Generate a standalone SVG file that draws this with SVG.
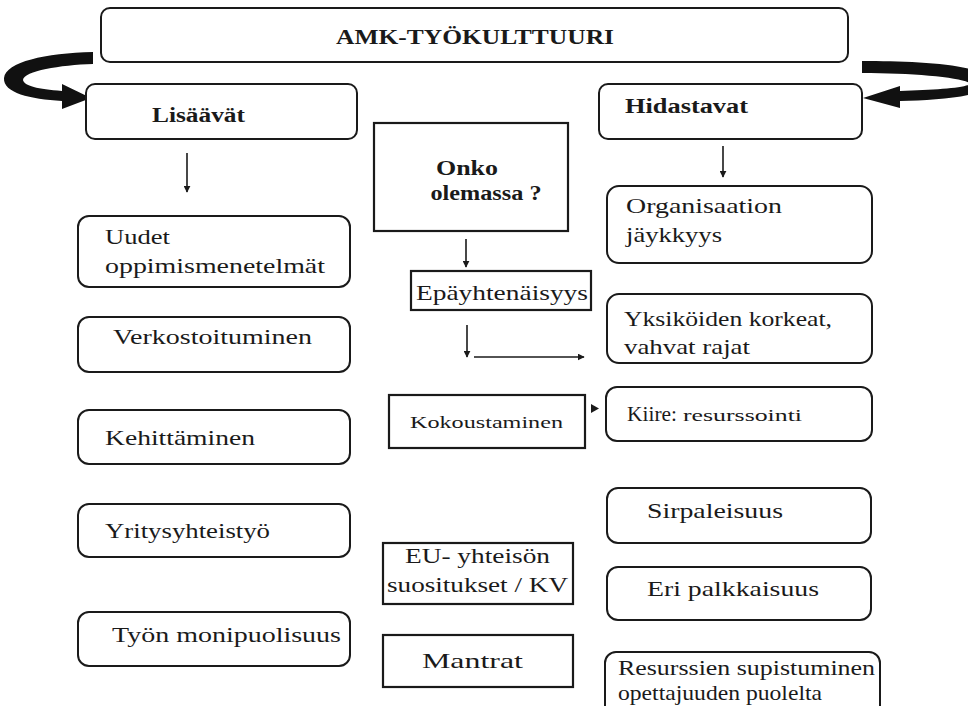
<svg xmlns="http://www.w3.org/2000/svg" width="968" height="706" viewBox="0 0 968 706">
  <style>
    .rbox { fill: #fff; stroke: #1a1a1a; stroke-width: 2; }
    .sbox { fill: #fff; stroke: #1a1a1a; stroke-width: 2.2; }
    .t { font-family: "Liberation Serif", "DejaVu Serif", serif; fill: #1a1a1a; font-size: 21px; }
    .b { font-weight: bold; font-size: 20px; }
    .s { font-size: 17px; }
    .conn { stroke: #1a1a1a; stroke-width: 1.6; fill: none; }
    .loop { fill: #111; }
  </style>
  <defs>
    <marker id="head" viewBox="0 0 10 10" refX="9" refY="5" markerWidth="7" markerHeight="7" markerUnits="userSpaceOnUse" orient="auto">
      <path d="M0,0 L10,5 L0,10 Z" fill="#1a1a1a"/>
    </marker>
  </defs>

  <rect width="968" height="706" fill="#fff"/>

  <!-- connectors -->
  <g id="connectors">
    <!-- thick loops from the top box down to the two headers -->
    <path class="loop" d="M93,52 C45,53 6,62 4,78 C3,93 30,99 62,101 L62,109 L91,98 L62,84 L62,91 C38,89 24,86 23,80 C24,71 60,65 93,64 Z"/>
    <path class="loop" d="M862,61 C915,61 984,64 988,80 C992,97 940,100 900,101 L900,108 L863,98 L900,86 L900,91 C935,90 965,88 970,84 C968,78 915,73 862,73 Z"/>
    <line class="conn" x1="187" y1="153" x2="187" y2="192" marker-end="url(#head)"/>
    <line class="conn" x1="723" y1="146" x2="723" y2="177" marker-end="url(#head)"/>
    <line class="conn" x1="466" y1="239" x2="466" y2="267" marker-end="url(#head)"/>
    <line class="conn" x1="467" y1="325" x2="467" y2="357" marker-end="url(#head)"/>
    <line class="conn" x1="474" y1="357" x2="584" y2="357" marker-end="url(#head)"/>
    <path d="M591,404 L599,408.5 L591,413 Z" fill="#1a1a1a"/>
  </g>

  <g id="node-amk">
    <rect class="rbox" x="101" y="8" width="747" height="54" rx="9"/>
    <text class="t b" x="475" y="44" text-anchor="middle" textLength="278" lengthAdjust="spacingAndGlyphs">AMK-TYÖKULTTUURI</text>
  </g>

  <g id="node-lisaavat">
    <rect class="rbox" x="86" y="84" width="271" height="55" rx="9"/>
    <text class="t b" x="152" y="122" textLength="93" lengthAdjust="spacingAndGlyphs">Lisäävät</text>
  </g>

  <g id="node-hidastavat">
    <rect class="rbox" x="599" y="84" width="263" height="55" rx="9"/>
    <text class="t b" x="625" y="113" textLength="123" lengthAdjust="spacingAndGlyphs">Hidastavat</text>
  </g>

  <!-- left column -->
  <g id="node-uudet">
    <rect class="rbox" x="78" y="216" width="272" height="71" rx="11"/>
    <text class="t" x="105" y="244" textLength="65" lengthAdjust="spacingAndGlyphs">Uudet</text>
    <text class="t" x="105" y="273" textLength="220" lengthAdjust="spacingAndGlyphs">oppimismenetelmät</text>
  </g>
  <g id="node-verkostoituminen">
    <rect class="rbox" x="78" y="317" width="272" height="55" rx="11"/>
    <text class="t" x="113" y="344" textLength="199" lengthAdjust="spacingAndGlyphs">Verkostoituminen</text>
  </g>
  <g id="node-kehittaminen">
    <rect class="rbox" x="78" y="410" width="272" height="54" rx="11"/>
    <text class="t" x="105" y="445" textLength="150" lengthAdjust="spacingAndGlyphs">Kehittäminen</text>
  </g>
  <g id="node-yritysyhteistyo">
    <rect class="rbox" x="78" y="504" width="272" height="53" rx="11"/>
    <text class="t" x="105" y="538" textLength="165" lengthAdjust="spacingAndGlyphs">Yritysyhteistyö</text>
  </g>
  <g id="node-tyon">
    <rect class="rbox" x="78" y="612" width="272" height="54" rx="11"/>
    <text class="t" x="112" y="642" textLength="229" lengthAdjust="spacingAndGlyphs">Työn monipuolisuus</text>
  </g>

  <!-- centre column -->
  <g id="node-onko">
    <rect class="sbox" x="374" y="123" width="194" height="108"/>
    <text class="t b" x="467" y="175" text-anchor="middle" textLength="62" lengthAdjust="spacingAndGlyphs">Onko</text>
    <text class="t b" x="486" y="200" text-anchor="middle" textLength="111" lengthAdjust="spacingAndGlyphs">olemassa ?</text>
  </g>
  <g id="node-epayhtenaisyys">
    <rect class="sbox" x="411" y="271" width="180" height="39"/>
    <text class="t" x="416" y="300" textLength="172" lengthAdjust="spacingAndGlyphs">Epäyhtenäisyys</text>
  </g>
  <g id="node-kokoustaminen">
    <rect class="sbox" x="389" y="395" width="196" height="53"/>
    <text class="t s" x="410" y="428" textLength="153" lengthAdjust="spacingAndGlyphs">Kokoustaminen</text>
  </g>
  <g id="node-eu">
    <rect class="sbox" x="383" y="543" width="190" height="61"/>
    <text class="t" x="405" y="563" textLength="145" lengthAdjust="spacingAndGlyphs">EU- yhteisön</text>
    <text class="t" x="387" y="592" textLength="181" lengthAdjust="spacingAndGlyphs">suositukset / KV</text>
  </g>
  <g id="node-mantrat">
    <rect class="sbox" x="383" y="635" width="190" height="52"/>
    <text class="t" x="422" y="668" textLength="101" lengthAdjust="spacingAndGlyphs">Mantrat</text>
  </g>

  <!-- right column -->
  <g id="node-organisaation">
    <rect class="rbox" x="607" y="186" width="265" height="77" rx="12"/>
    <text class="t" x="626" y="213" textLength="156" lengthAdjust="spacingAndGlyphs">Organisaation</text>
    <text class="t" x="626" y="242" textLength="96" lengthAdjust="spacingAndGlyphs">jäykkyys</text>
  </g>
  <g id="node-yksikoiden">
    <rect class="rbox" x="607" y="294" width="265" height="69" rx="12"/>
    <text class="t" x="624" y="326" textLength="208" lengthAdjust="spacingAndGlyphs">Yksiköiden korkeat,</text>
    <text class="t" x="624" y="354" textLength="126" lengthAdjust="spacingAndGlyphs">vahvat rajat</text>
  </g>
  <g id="node-kiire">
    <rect class="rbox" x="606" y="387" width="266" height="54" rx="11"/>
    <text class="t" x="627" y="421" textLength="50" lengthAdjust="spacingAndGlyphs">Kiire:</text>
    <text class="t s" x="683" y="421" textLength="119" lengthAdjust="spacingAndGlyphs">resurssointi</text>
  </g>
  <g id="node-sirpaleisuus">
    <rect class="rbox" x="607" y="488" width="264" height="55" rx="11"/>
    <text class="t" x="647" y="518" textLength="136" lengthAdjust="spacingAndGlyphs">Sirpaleisuus</text>
  </g>
  <g id="node-palkkaisuus">
    <rect class="rbox" x="607" y="567" width="264" height="53" rx="11"/>
    <text class="t" x="647" y="596" textLength="172" lengthAdjust="spacingAndGlyphs">Eri palkkaisuus</text>
  </g>
  <g id="node-resurssien">
    <rect class="rbox" x="605" y="652" width="275" height="70" rx="11"/>
    <text class="t" x="618" y="675" font-size="19" textLength="257" lengthAdjust="spacingAndGlyphs">Resurssien supistuminen</text>
    <text class="t" x="618" y="700" font-size="19" textLength="204" lengthAdjust="spacingAndGlyphs">opettajuuden puolelta</text>
  </g>
</svg>
